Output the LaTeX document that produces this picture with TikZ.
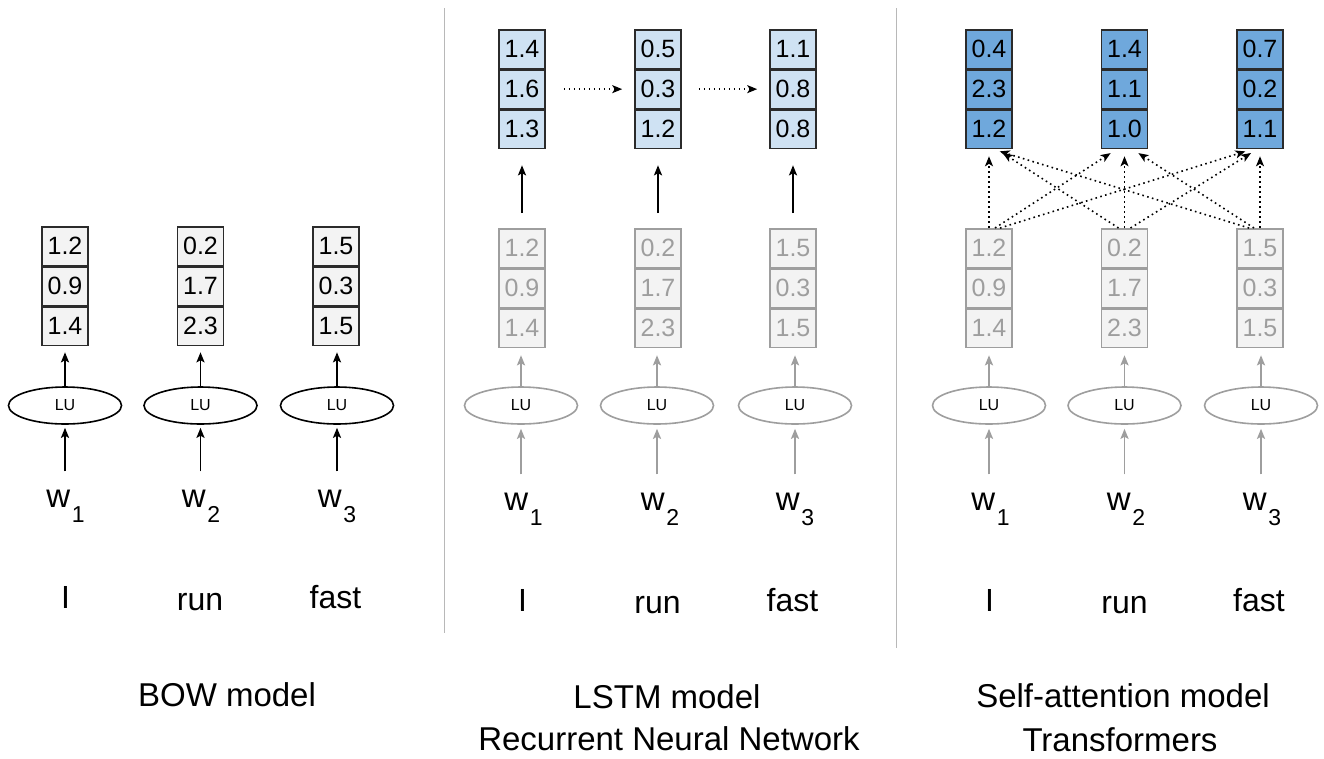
\documentclass[tikz,border=0pt]{standalone}
\usepackage{fontspec}
\setmainfont{Liberation Sans}
\usetikzlibrary{arrows.meta,shapes.geometric}
\definecolor{bowfill}{HTML}{F3F3F3}
\definecolor{edge}{HTML}{2B2B2B}
\definecolor{lightblue}{HTML}{CFE2F3}
\definecolor{midblue}{HTML}{6FA8DC}
\definecolor{fade}{HTML}{9E9E9E}
\definecolor{sepgray}{HTML}{B8B8B8}
\tikzset{
  cellbox/.style={draw=edge, line width=1.6pt, minimum width=46pt, minimum height=38.5pt, inner sep=0pt, font=\fontsize{25}{25}\selectfont, text=black},
  plaincell/.style={cellbox, fill=bowfill},
  bluecell/.style={cellbox, fill=lightblue},
  darkcell/.style={cellbox, fill=midblue},
  fadecell/.style={cellbox, fill=bowfill, draw=fade, text=fade},
  lubox/.style={ellipse, draw=black, line width=1.6pt, minimum width=113pt, minimum height=37pt, inner sep=0pt, font=\fontsize{16}{16}\selectfont},
  fadelu/.style={lubox, draw=fade},
  uparrow/.style={line width=1.8pt, draw=black, -{Stealth[length=10pt,width=8pt,inset=2pt]}},
  fadearrow/.style={uparrow, draw=fade},
  dotarrow/.style={line width=1.6pt, draw=black, dash pattern=on 1.6pt off 3.4pt, -{Stealth[length=10pt,width=8pt,inset=2.5pt]}},
  wordlab/.style={inner sep=0pt, anchor=base, font=\fontsize{32}{32}\selectfont},
  wlabel/.style={inner sep=0pt, anchor=base},
  titlelab/.style={inner sep=0pt, anchor=base, font=\fontsize{33}{33}\selectfont},
  sepline/.style={draw=sepgray, line width=1pt}
}
\newcommand\cellstack[7]{%
  \node[#4, anchor=north] (#1-1) at (#2,#3) {#5};
  \node[#4, anchor=north] (#1-2) at (#1-1.south) {#6};
  \node[#4, anchor=north] (#1-3) at (#1-2.south) {#7};}
\newcommand\wsub[1]{\fontsize{33}{33}\selectfont w\kern1.5pt\raisebox{-15pt}{\fontsize{23}{23}\selectfont #1}}
\begin{document}
\begin{tikzpicture}[x=1pt,y=-1pt]
\useasboundingbox[fill=white] (0,0) rectangle (1324,758);

% separators
\draw[sepline] (444,8) -- (444,633);
\draw[sepline] (896,8) -- (896,648);

% ---------------- BOW ----------------
\cellstack{b1}{65}{226}{plaincell}{1.2}{0.9}{1.4}
\cellstack{b2}{200.5}{226}{plaincell}{0.2}{1.7}{2.3}
\cellstack{b3}{336}{226}{plaincell}{1.5}{0.3}{1.5}
\node[lubox] (blu1) at (65,405.5) {LU};
\node[lubox] (blu2) at (200.5,405.5) {LU};
\node[lubox] (blu3) at (337,405.5) {LU};
\node[wlabel] (bw1) at (65.5,507) {\wsub{1}};
\node[wlabel] (bw2) at (201,507) {\wsub{2}};
\node[wlabel] (bw3) at (337,507) {\wsub{3}};
\foreach \i in {1,2,3}{
  \draw[uparrow, shorten <=-2pt, shorten >=6pt] (blu\i.north) -- (blu\i.north |- b\i-3.south);
  \draw[uparrow, shorten <=18pt, shorten >=3pt] (blu\i.south |- bw\i.north) -- (blu\i.south);
}
\node[wordlab] (bword1) at (65.5,608) {I};
\node[wordlab] (bword2) at (200,610) {run};
\node[wordlab] (bword3) at (335.5,608) {fast};
\node[titlelab] (btitle) at (227,706) {BOW model};

% ---------------- LSTM ----------------
\cellstack{lt1}{522}{29}{bluecell}{1.4}{1.6}{1.3}
\cellstack{lt2}{658}{29}{bluecell}{0.5}{0.3}{1.2}
\cellstack{lt3}{793}{29}{bluecell}{1.1}{0.8}{0.8}
\cellstack{lg1}{522}{228}{fadecell}{1.2}{0.9}{1.4}
\cellstack{lg2}{658}{228}{fadecell}{0.2}{1.7}{2.3}
\cellstack{lg3}{793}{228}{fadecell}{1.5}{0.3}{1.5}
\node[fadelu] (llu1) at (521,405.5) {LU};
\node[fadelu] (llu2) at (657,405.5) {LU};
\node[fadelu] (llu3) at (795,405.5) {LU};
\node[wlabel] (lw1) at (523.5,510) {\wsub{1}};
\node[wlabel] (lw2) at (660,510) {\wsub{2}};
\node[wlabel] (lw3) at (795,510) {\wsub{3}};
\foreach \i in {1,2,3}{
  \draw[uparrow, shorten <=15pt, shorten >=16pt] (lg\i-1.north) -- (lt\i-3.south);
  \draw[fadearrow, shorten <=-2pt, shorten >=7pt] (llu\i.north) -- (llu\i.north |- lg\i-3.south);
  \draw[fadearrow, shorten <=18pt, shorten >=4pt] (llu\i.south |- lw\i.north) -- (llu\i.south);
}
\draw[dotarrow, shorten <=18pt, shorten >=12pt] (lt1-2.east) -- (lt2-2.west);
\draw[dotarrow, shorten <=17pt, shorten >=12pt] (lt2-2.east) -- (lt3-2.west);
\node[wordlab] (lword1) at (522.5,611) {I};
\node[wordlab] (lword2) at (657.5,613) {run};
\node[wordlab] (lword3) at (792.5,611) {fast};
\node[titlelab] (ltitle1) at (667,708) {LSTM model};
\node[titlelab] (ltitle2) at (669,750) {Recurrent Neural Network};

% ---------------- Self-attention ----------------
\cellstack{st1}{989}{29}{darkcell}{0.4}{2.3}{1.2}
\cellstack{st2}{1124.5}{29}{darkcell}{1.4}{1.1}{1.0}
\cellstack{st3}{1260}{29}{darkcell}{0.7}{0.2}{1.1}
\cellstack{sg1}{989}{228}{fadecell}{1.2}{0.9}{1.4}
\cellstack{sg2}{1124.5}{228}{fadecell}{0.2}{1.7}{2.3}
\cellstack{sg3}{1260}{228}{fadecell}{1.5}{0.3}{1.5}
\node[fadelu] (slu1) at (989,405.5) {LU};
\node[fadelu] (slu2) at (1124.5,405.5) {LU};
\node[fadelu] (slu3) at (1261,405.5) {LU};
\node[wlabel] (sw1) at (990.5,510) {\wsub{1}};
\node[wlabel] (sw2) at (1126,510) {\wsub{2}};
\node[wlabel] (sw3) at (1262,510) {\wsub{3}};
\foreach \i in {1,2,3}{
  \draw[fadearrow, shorten <=-2pt, shorten >=7pt] (slu\i.north) -- (slu\i.north |- sg\i-3.south);
  \draw[fadearrow, shorten <=18pt, shorten >=4pt] (slu\i.south |- sw\i.north) -- (slu\i.south);
}
% attention connections
\draw[dotarrow, shorten >=7pt] (sg1-1.north) -- (st1-3.south);
\draw[dotarrow, shorten >=7pt] (sg2-1.north) -- (st2-3.south);
\draw[dotarrow, shorten >=7pt] (sg3-1.north) -- (st3-3.south);
\draw[dotarrow, shorten >=7pt] ([xshift=6pt]sg1-1.north) -- ([xshift=-8pt]st2-3.south);
\draw[dotarrow, shorten >=7pt] ([xshift=11pt]sg1-1.north) -- ([xshift=-8pt]st3-3.south);
\draw[dotarrow, shorten >=7pt] ([xshift=-6pt]sg2-1.north) -- ([xshift=8pt]st1-3.south);
\draw[dotarrow, shorten >=7pt] ([xshift=6pt]sg2-1.north) -- ([xshift=-3pt]st3-3.south);
\draw[dotarrow, shorten >=7pt] ([xshift=-11pt]sg3-1.north) -- ([xshift=4pt]st1-3.south);
\draw[dotarrow, shorten >=7pt] ([xshift=-6pt]sg3-1.north) -- ([xshift=8pt]st2-3.south);
\node[wordlab] (sword1) at (989.5,611) {I};
\node[wordlab] (sword2) at (1124.5,613) {run};
\node[wordlab] (sword3) at (1259,611) {fast};
\node[titlelab] (stitle1) at (1123,707) {Self-attention model};
\node[titlelab] (stitle2) at (1120,751) {Transformers};
\end{tikzpicture}
\end{document}
